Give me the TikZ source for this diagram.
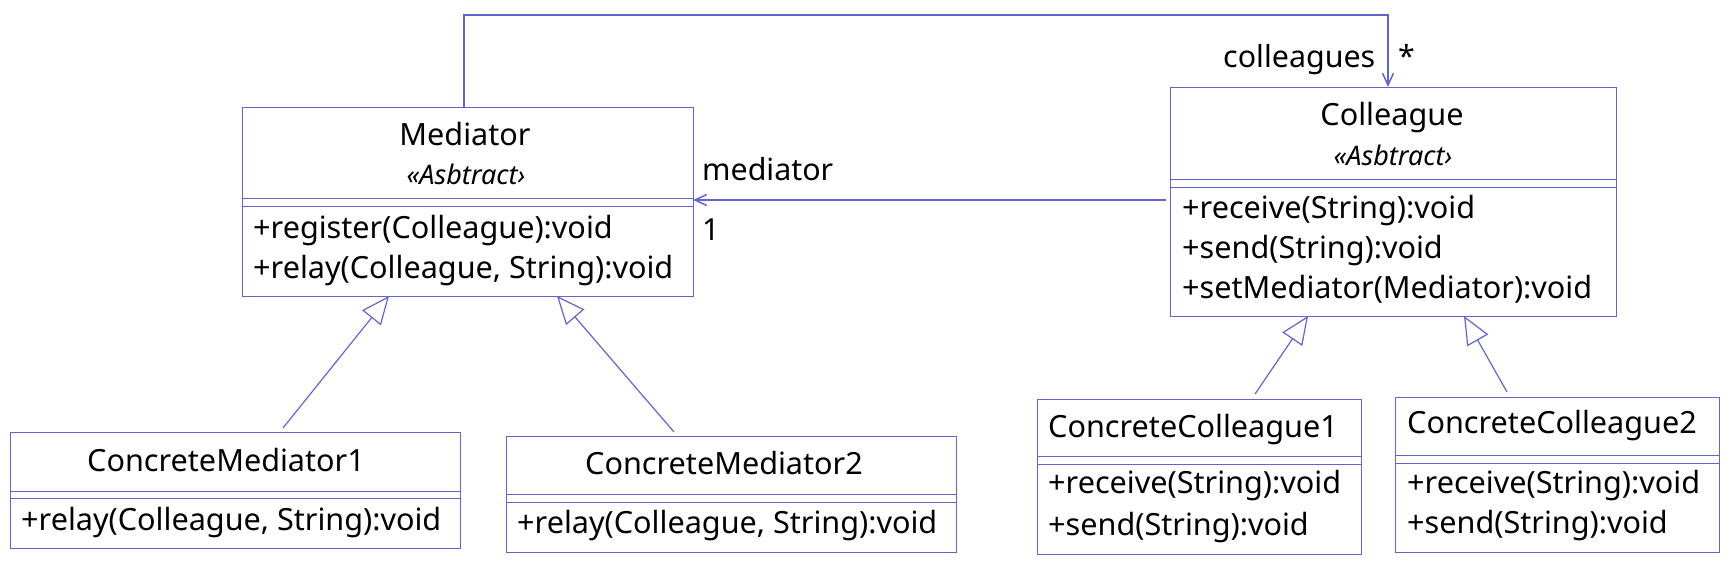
\documentclass[tikz,border=0pt]{standalone}
\usepackage{fontspec}
\setmainfont{Noto Sans}
\usetikzlibrary{arrows.meta}
\definecolor{uml}{RGB}{100,100,205}
\begin{document}
\begin{tikzpicture}[x=1pt,y=-1pt,
  box/.style={draw=uml, line width=1pt, rectangle, inner sep=0pt, outer sep=0pt},
  sepline/.style={draw=uml, line width=1pt},
  ttl/.style={anchor=base, inner sep=0pt, font=\fontsize{30.6}{30.6}\selectfont},
  ster/.style={anchor=base, inner sep=0pt, font=\fontsize{27}{27}\selectfont\itshape},
  meth/.style={anchor=base west, inner sep=0pt, font=\fontsize{30.6}{30.6}\selectfont},
  lbl/.style={anchor=base west, inner sep=0pt, font=\fontsize{30.4}{30.4}\selectfont},
  inh/.style={draw=uml, line width=1.2pt, -{Triangle[open, length=28pt, width=24pt, fill=white]}},
  assoc/.style={draw=uml, line width=1.5pt, -{Straight Barb[length=12pt, width=11pt]}}
]
\useasboundingbox (0,0) rectangle (1730,563);

% Mediator
\node[box, minimum width=451pt, minimum height=189pt] (med) at (467.5,201.5) {};
\draw[sepline] (med.west |- 0,198) -- (med.east |- 0,198);
\draw[sepline] (med.west |- 0,206) -- (med.east |- 0,206);
\node[ttl] (medt) at (465,145) {Mediator};
\node[ster] (meds) at (466,184) {«Asbtract›};
\node[meth] (medm1) at (253,238) {+register(Colleague):void};
\node[meth] (medm2) at (253,278) {+relay(Colleague, String):void};

% Colleague
\node[box, minimum width=446pt, minimum height=229pt] (col) at (1393,201.5) {};
\draw[sepline] (col.west |- 0,179) -- (col.east |- 0,179);
\draw[sepline] (col.west |- 0,187) -- (col.east |- 0,187);
\node[ttl] (colt) at (1392,125) {Colleague};
\node[ster] (cols) at (1393,165) {«Asbtract›};
\node[meth] (colm1) at (1182,218) {+receive(String):void};
\node[meth] (colm2) at (1182,258) {+send(String):void};
\node[meth] (colm3) at (1182,298) {+setMediator(Mediator):void};

% ConcreteMediator1
\node[box, minimum width=450pt, minimum height=116pt] (cm1) at (235,490) {};
\draw[sepline] (cm1.west |- 0,491) -- (cm1.east |- 0,491);
\draw[sepline] (cm1.west |- 0,498) -- (cm1.east |- 0,498);
\node[ttl] (cm1t) at (226,471) {ConcreteMediator1};
\node[meth] (cm1m) at (21,530) {+relay(Colleague, String):void};

% ConcreteMediator2
\node[box, minimum width=450pt, minimum height=116pt] (cm2) at (731,494) {};
\draw[sepline] (cm2.west |- 0,494) -- (cm2.east |- 0,494);
\draw[sepline] (cm2.west |- 0,502) -- (cm2.east |- 0,502);
\node[ttl] (cm2t) at (724,474) {ConcreteMediator2};
\node[meth] (cm2m) at (517,533) {+relay(Colleague, String):void};

% ConcreteColleague1
\node[box, minimum width=324pt, minimum height=155pt] (cc1) at (1199,476.5) {};
\draw[sepline] (cc1.west |- 0,456) -- (cc1.east |- 0,456);
\draw[sepline] (cc1.west |- 0,464) -- (cc1.east |- 0,464);
\node[meth] (cc1t) at (1048,437) {ConcreteColleague1};
\node[meth] (cc1m1) at (1048,493) {+receive(String):void};
\node[meth] (cc1m2) at (1048,535) {+send(String):void};

% ConcreteColleague2
\node[box, minimum width=324pt, minimum height=155pt] (cc2) at (1557,474.5) {};
\draw[sepline] (cc2.west |- 0,455) -- (cc2.east |- 0,455);
\draw[sepline] (cc2.west |- 0,463) -- (cc2.east |- 0,463);
\node[meth] (cc2t) at (1407,433) {ConcreteColleague2};
\node[meth] (cc2m1) at (1407,493) {+receive(String):void};
\node[meth] (cc2m2) at (1407,533) {+send(String):void};

% connector end points
\coordinate (cm1s) at (283,428);
\coordinate (cm1e) at (389,296);
\coordinate (cm2s) at (674,432);
\coordinate (cm2e) at (557,296);
\coordinate (cc1s) at (1255,394);
\coordinate (cc1e) at (1308,316);
\coordinate (cc2s) at (1507,392);
\coordinate (cc2e) at (1464,316);

\draw[inh] (cm1s) -- (med.south -| cm1e);
\draw[inh] (cm2s) -- (med.south -| cm2e);
\draw[inh] (cc1s) -- (col.south -| cc1e);
\draw[inh] (cc2s) -- (col.south -| cc2e);

% associations
\coordinate (asrc) at (1166,200);
\draw[assoc] (asrc) -- (med.east |- asrc);
\coordinate (mtop) at (464,107);
\coordinate (ctop) at (1388,87);
\draw[assoc] (med.north -| mtop) -- (464,15) -| (col.north -| ctop);

\node[lbl] (lmed) at (702,180) {mediator};
\node[lbl] (lone) at (702,240) {1};
\node[lbl] (lcol) at (1223,67) {colleagues};
\node[lbl] (lstar) at (1398,67) {*};
\end{tikzpicture}
\end{document}
